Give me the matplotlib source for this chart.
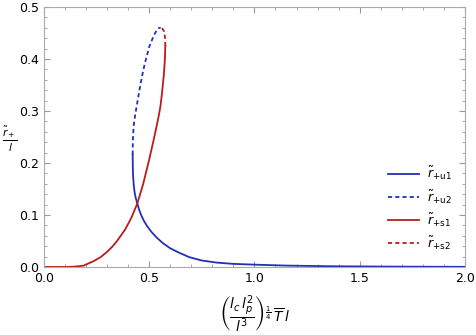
import matplotlib
matplotlib.use('Agg')
import matplotlib.pyplot as plt
from matplotlib.ticker import MultipleLocator

# values
u1_x = [0.422, 0.4225, 0.424, 0.427, 0.431, 0.437, 0.444, 0.452, 0.462, 0.475, 0.49, 0.51, 0.535, 0.565, 0.6, 0.64, 0.69, 0.75, 0.82, 0.9, 1.0, 1.15, 1.37, 1.6, 1.8, 2.0]
u1_y = [0.216, 0.195, 0.175, 0.158, 0.144, 0.132, 0.122, 0.111, 0.100, 0.089, 0.079, 0.068, 0.057, 0.046, 0.036, 0.028, 0.019, 0.0125, 0.0085, 0.006, 0.0045, 0.0027, 0.0014, 0.0008, 0.0005, 0.0003]
u2_x = [0.422, 0.4225, 0.424, 0.428, 0.434, 0.441, 0.457, 0.468, 0.480, 0.491, 0.501, 0.511, 0.520, 0.530, 0.540, 0.548, 0.555]
u2_y = [0.216, 0.235, 0.255, 0.275, 0.293, 0.309, 0.347, 0.370, 0.392, 0.409, 0.424, 0.434, 0.443, 0.451, 0.457, 0.460, 0.460]
s1_x = [0.0, 0.11, 0.15, 0.188, 0.235, 0.27, 0.30, 0.325, 0.346, 0.386, 0.415, 0.444, 0.472, 0.500, 0.522, 0.544, 0.553, 0.560, 0.570, 0.575, 0.577]
s1_y = [0.0, 0.0, 0.0008, 0.0025, 0.011, 0.019, 0.029, 0.039, 0.049, 0.072, 0.094, 0.122, 0.160, 0.206, 0.245, 0.287, 0.307, 0.330, 0.370, 0.400, 0.425]
s2_x = [0.577, 0.576, 0.571, 0.564, 0.555]
s2_y = [0.425, 0.440, 0.453, 0.458, 0.460]

blue = '#2030b8'
red = '#b81c1c'

fig = plt.figure(figsize=(4.76, 3.35), dpi=100)
ax = fig.add_axes([0.092, 0.203, 0.885, 0.776])

dash = (0, (2.3, 1.7))
ax.plot(u1_x, u1_y, color=blue, lw=1.3, label=r'$\tilde{r}_{+\mathrm{u1}}$')
ax.plot(u2_x, u2_y, color=blue, lw=1.3, ls=dash, label=r'$\tilde{r}_{+\mathrm{u2}}$')
ax.plot(s1_x, s1_y, color=red, lw=1.3, label=r'$\tilde{r}_{+\mathrm{s1}}$')
ax.plot(s2_x, s2_y, color=red, lw=1.3, ls=dash, label=r'$\tilde{r}_{+\mathrm{s2}}$')

ax.set_xlim(0, 2.0)
ax.set_ylim(0, 0.5)
ax.xaxis.set_major_locator(MultipleLocator(0.5))
ax.xaxis.set_minor_locator(MultipleLocator(0.1))
ax.yaxis.set_major_locator(MultipleLocator(0.1))
ax.yaxis.set_minor_locator(MultipleLocator(0.02))
ax.tick_params(which='both', direction='in', top=True, right=True, color='#999999', labelsize=9)
ax.tick_params(which='major', length=4)
ax.tick_params(which='minor', length=2)
ax.xaxis.set_major_formatter(plt.FormatStrFormatter('%.1f'))
ax.yaxis.set_major_formatter(plt.FormatStrFormatter('%.1f'))
for s in ax.spines.values():
    s.set_color('#aaaaaa')

ax.set_xlabel(r'$\left(\dfrac{l_c\, l_p^2}{l^3}\right)^{\frac{1}{4}}\,\overline{T}\,l$', fontsize=10)
ax.xaxis.set_label_coords(0.5, -0.1, transform=ax.transAxes)
ax.xaxis.label.set_va('top')
ax.set_ylabel(r'$\frac{\tilde{r}_+}{l}$', fontsize=11, rotation=0, va='center', ha='center')
ax.yaxis.set_label_coords(-0.08, 0.49)

ax.legend(loc='lower right', frameon=False, fontsize=9, handlelength=2.5, handletextpad=0.6,
          labelspacing=0.45, bbox_to_anchor=(0.995, 0.015))

fig.savefig('out.png', dpi=100)
